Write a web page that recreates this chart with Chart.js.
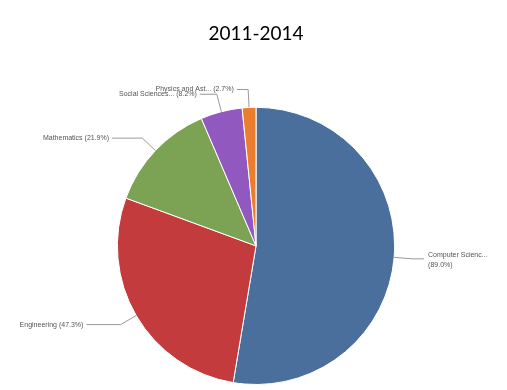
<!DOCTYPE html>
<html>
<head>
<meta charset="utf-8">
<script src="https://cdn.jsdelivr.net/npm/chart.js@4/dist/chart.umd.min.js"></script>
<style>
  html, body { margin: 0; padding: 0; background: #fff; }
  #wrap { width: 507px; height: 390px; }
</style>
</head>
<body>
<div id="wrap"><canvas id="chart" width="507" height="390"></canvas></div>
<script>
const fields = ["Computer Science", "Engineering", "Mathematics", "Social Sciences", "Physics and Astronomy"];
const shortNames = ["Computer Scienc...", "Engineering", "Mathematics", "Social Sciences...", "Physics and Ast..."];
const shares = [89.0, 47.3, 21.9, 8.2, 2.7];
const sliceColors = ["#4A6F9C", "#C33B3C", "#7CA254", "#9159BF", "#EB7D2F"];

// leader lines + labels drawn outside each slice
const outsideLabels = {
    id: "outsideLabels",
    afterDatasetsDraw(chart) {
        const ctx = chart.ctx;
        const meta = chart.getDatasetMeta(0);
        ctx.save();
        ctx.font = "7px 'Liberation Sans', Arial, sans-serif";
        ctx.fillStyle = "#555";
        ctx.strokeStyle = "#999";
        ctx.lineWidth = 1;
        meta.data.forEach((arc, i) => {
            const { x, y, outerRadius, startAngle, endAngle } = arc.getProps(
                ["x", "y", "outerRadius", "startAngle", "endAngle"], true);
            const mid = (startAngle + endAngle) / 2;
            const cos = Math.cos(mid), sin = Math.sin(mid);
            const right = cos >= 0;
            const x0 = x + cos * outerRadius, y0 = y + sin * outerRadius;
            const x1 = x + cos * (outerRadius + 18), y1 = y + sin * (outerRadius + 18);
            // left side labels get a longer arm when the slice points sideways
            const arm = right ? 12 : 10 + 28 * Math.abs(cos);
            const x2 = x1 + (right ? arm : -arm);
            ctx.beginPath();
            ctx.moveTo(x0, y0);
            ctx.lineTo(x1, y1);
            ctx.lineTo(x2, y1);
            ctx.stroke();
            const pct = "(" + shares[i].toFixed(1) + "%)";
            ctx.textBaseline = "middle";
            if (right) {
                ctx.textAlign = "left";
                ctx.fillText(shortNames[i], x2 + 4, y1 - 4);
                ctx.fillText(pct, x2 + 4, y1 + 6);
            } else {
                ctx.textAlign = "right";
                ctx.fillText(shortNames[i] + " " + pct, x2 - 3, y1);
            }
        });
        ctx.restore();
    }
};

new Chart("chart", {
    type: "pie",
    data: {
        labels: fields,
        datasets: [{
            data: shares,
            backgroundColor: sliceColors,
            borderColor: "#fff",
            borderWidth: 1
        }]
    },
    options: {
        responsive: false,
        animation: false,
        layout: { padding: { left: 5, bottom: 5 } },
        plugins: {
            legend: { display: false },
            tooltip: { enabled: false },
            title: {
                display: true,
                text: "2011-2014",
                color: "#000",
                font: { family: "Lato, 'Open Sans', sans-serif", size: 19, weight: "normal" },
                padding: { top: 22, bottom: 62 }
            }
        }
    },
    plugins: [outsideLabels]
});
</script>
</body>
</html>
